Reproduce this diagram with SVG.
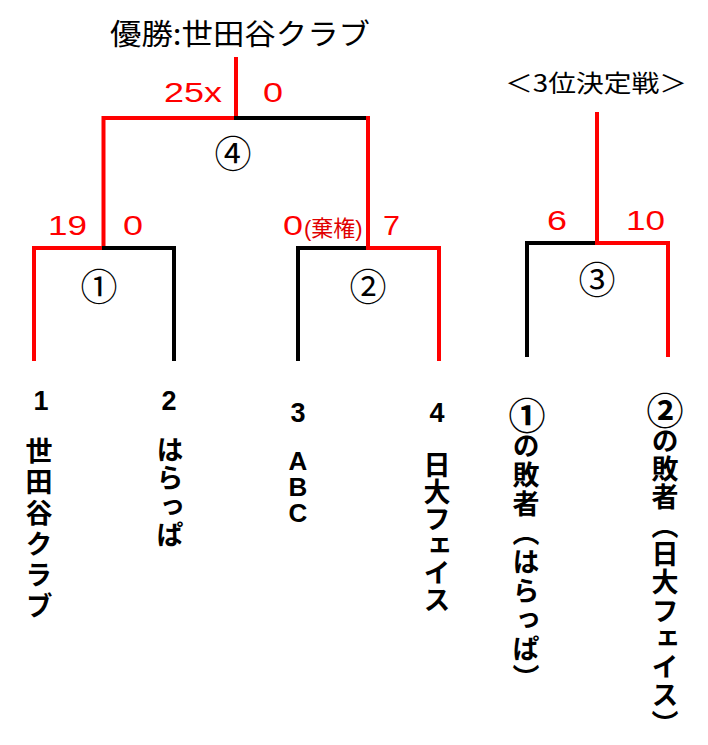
<svg xmlns="http://www.w3.org/2000/svg" width="708" height="745" viewBox="0 0 708 745">
<style>
.r{fill:none;stroke:#ff0000;stroke-width:4;stroke-linejoin:miter;stroke-linecap:square}
.k{fill:none;stroke:#000;stroke-width:4;stroke-linejoin:miter;stroke-linecap:square}
.sc{font-family:"Liberation Sans","Noto Sans CJK JP",sans-serif;font-size:28px;fill:#ff0000}
.sm{font-family:"Liberation Sans","Noto Sans CJK JP",sans-serif;font-size:22px;fill:#e00000}
.cn{font-family:"Noto Sans CJK JP",sans-serif;font-size:37px;fill:#000;text-anchor:middle;dominant-baseline:central}
.num{font-family:"Liberation Sans",sans-serif;font-size:27px;font-weight:bold;fill:#000;text-anchor:middle}
.abc{font-family:"Liberation Sans",sans-serif;font-size:26px;font-weight:bold;fill:#000;writing-mode:vertical-rl;text-orientation:upright}
.v{font-family:"Noto Sans CJK JP",sans-serif;font-size:27px;font-weight:bold;fill:#000;writing-mode:vertical-rl}
.ttl{font-family:"Noto Sans CJK JP",sans-serif;fill:#000}
</style>
<rect width="708" height="745" fill="#fff"/>
<g id="connectors">
<polyline class="r" points="236,59 236,118"/>
<polyline class="r" points="236,118 103.5,118 103.5,248"/>
<polyline class="k" points="236,118 368,118"/>
<polyline class="r" points="368,118 368,248"/>
<polyline class="r" points="104,248 34,248 34,359"/>
<polyline class="k" points="104,248 174,248 174,359"/>
<polyline class="k" points="368,248 298,248 298,359"/>
<polyline class="r" points="368,248 439,248 439,359"/>
<polyline class="r" points="597,114 597,243"/>
<polyline class="k" points="597,243 527,243 527,355"/>
<polyline class="r" points="597,243 668,243 668,355"/>
</g>
<g id="title">
<text class="ttl" x="110" y="45" font-size="29" textLength="260" lengthAdjust="spacingAndGlyphs">優勝:世田谷クラブ</text>
</g>
<g id="title3">
<text class="ttl" x="505" y="92" font-size="24" textLength="182" lengthAdjust="spacingAndGlyphs">＜3位決定戦＞</text>
</g>
<g id="match4">
<text class="sc" x="164" y="102" textLength="58" lengthAdjust="spacingAndGlyphs">25x</text>
<text class="sc" x="263" y="102" textLength="20" lengthAdjust="spacingAndGlyphs">0</text>
<text class="cn" x="233" y="152">④</text>
</g>
<g id="match1">
<text class="sc" x="48" y="235" textLength="39" lengthAdjust="spacingAndGlyphs">19</text>
<text class="sc" x="123" y="235" textLength="20" lengthAdjust="spacingAndGlyphs">0</text>
<text class="cn" x="99" y="285">①</text>
</g>
<g id="match2">
<text class="sc" x="283" y="235" textLength="20" lengthAdjust="spacingAndGlyphs">0</text>
<text class="sm" x="304" y="236">(棄権)</text>
<text class="sc" x="383" y="235" textLength="17" lengthAdjust="spacingAndGlyphs">7</text>
<text class="cn" x="368" y="285">②</text>
</g>
<g id="match3">
<text class="sc" x="547" y="230" textLength="20" lengthAdjust="spacingAndGlyphs">6</text>
<text class="sc" x="626" y="230" textLength="39" lengthAdjust="spacingAndGlyphs">10</text>
<text class="cn" x="597" y="278">③</text>
</g>
<g id="team1">
<text class="num" x="41" y="410">1</text>
<text class="v" x="39" y="437" letter-spacing="4">世田谷クラブ</text>
</g>
<g id="team2">
<text class="num" x="169" y="410">2</text>
<text class="v" x="170" y="436" letter-spacing="1.5">はらっぱ</text>
</g>
<g id="team3">
<text class="num" x="298" y="422">3</text>
<text class="abc" x="298" y="446" letter-spacing="-4">ABC</text>
</g>
<g id="team4">
<text class="num" x="437" y="422">4</text>
<text class="v" x="437" y="451">日大フェイス</text>
</g>
<g id="loser1">
<text class="cn" x="527" y="414" font-weight="bold">①</text>
<text class="v" x="526" y="432" letter-spacing="2">の敗者（はらっぱ）</text>
</g>
<g id="loser2">
<text class="cn" x="665" y="409" font-weight="bold">②</text>
<text class="v" x="665" y="427" letter-spacing="1.3">の敗者（日大フェイス）</text>
</g>
</svg>
